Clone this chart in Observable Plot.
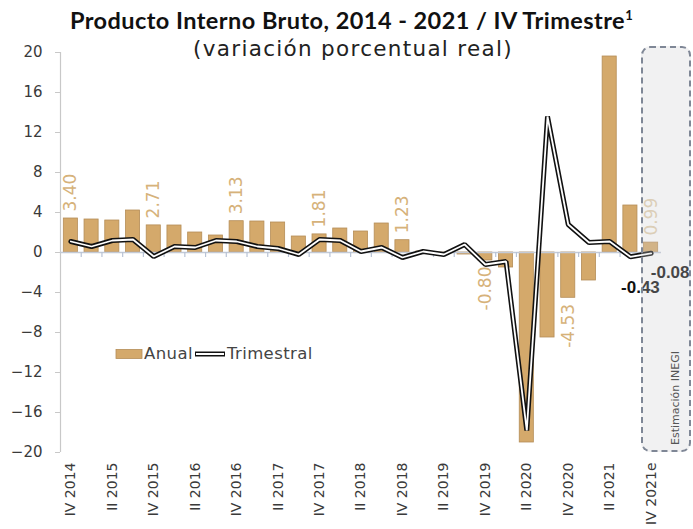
<!DOCTYPE html>
<html><head><meta charset="utf-8">
<script src="https://cdn.jsdelivr.net/npm/d3@7"></script>
<script src="https://cdn.jsdelivr.net/npm/@observablehq/plot@0.6"></script>
<style>
body{margin:0;background:#fff;}
#wrap{position:relative;width:693px;height:529px;overflow:hidden;font-family:"DejaVu Sans",sans-serif;}
#chart{position:absolute;left:0;top:0;}
#title{position:absolute;left:0;top:6px;width:703px;text-align:center;font-family:Lato,sans-serif;font-weight:bold;font-size:23.5px;letter-spacing:0.45px;color:#111;white-space:nowrap;}
#title sup{font-size:13px;}
#subtitle{position:absolute;left:0;top:36px;width:706px;text-align:center;font-size:21.5px;letter-spacing:1.3px;color:#222;white-space:nowrap;}
#legend{position:absolute;left:115px;top:344px;font-size:16.5px;letter-spacing:0.4px;color:#444;display:flex;align-items:center;white-space:nowrap;}
#box{position:absolute;left:641px;top:46px;width:46px;height:402px;border:2px dashed #7f8796;border-radius:9px;background:rgba(205,205,210,0.28);}
#boxtext{position:absolute;left:675px;top:398px;transform:translate(-50%,-50%) rotate(-90deg);font-size:11px;color:#555;white-space:nowrap;}
</style></head><body>
<div id="wrap">
  <div id="chart"></div>
  <div id="title">Producto Interno Bruto, 2014 - 2021 / IV Trimestre<sup>1</sup></div>
  <div id="subtitle">(variación porcentual real)</div>
  <div id="legend">
    <svg width="29" height="12"><rect x="1" y="1.5" width="26" height="9" fill="#d4a96b" stroke="#b58d57" stroke-width="0.8"/></svg>
    <span>Anual</span>
    <svg width="34" height="12"><line x1="2" y1="6" x2="32" y2="6" stroke="#111" stroke-width="5"/><line x1="3" y1="6" x2="31" y2="6" stroke="#fff" stroke-width="2"/></svg>
    <span>Trimestral</span>
  </div>
  <div id="box"></div>
  <div id="boxtext">Estimación INEGI</div>
</div>
<script>
const quarters = ["IV 2014","I 2015","II 2015","III 2015","IV 2015","I 2016","II 2016","III 2016","IV 2016","I 2017","II 2017","III 2017","IV 2017","I 2018","II 2018","III 2018","IV 2018","I 2019","II 2019","III 2019","IV 2019","I 2020","II 2020","III 2020","IV 2020","I 2021","II 2021","III 2021","IV 2021e"];
const anual = [3.40, 3.3, 3.2, 4.2, 2.71, 2.7, 2.0, 1.7, 3.13, 3.1, 3.0, 1.6, 1.81, 2.4, 2.1, 2.9, 1.23, 0.1, -0.1, -0.2, -0.80, -1.5, -19.0, -8.5, -4.53, -2.8, 19.6, 4.7, 0.99];
const trimestral = [1.1, 0.6, 1.2, 1.3, -0.4, 0.6, 0.5, 1.2, 1.1, 0.6, 0.4, -0.2, 1.3, 1.2, 0.1, 0.5, -0.5, 0.1, -0.2, 0.8, -1.2, -0.9, -17.8, 13.6, 2.8, 1.0, 1.1, -0.43, -0.08];
const labeledAnual = [0, 4, 8, 12, 16, 20, 24, 28];
const labeledTrim = [27, 28];
const yTicks = [20, 16, 12, 8, 4, 0, -4, -8, -12, -16, -20];

const data = quarters.map((q, i) => ({i, q, anual: anual[i], trim: trimestral[i]}));
const xTicks = data.filter(d => d.i % 2 === 0).map(d => d.i);
const sep = data.slice(0, -1).map(d => d.i + 0.5);
const half = 0.34;
const tan = "#d4a96b";

const chart = Plot.plot({
  width: 693,
  height: 529,
  marginTop: 52,
  marginBottom: 77,
  marginLeft: 60,
  marginRight: 32,
  style: {fontFamily: "DejaVu Sans, sans-serif", fontSize: "15px", background: "transparent"},
  x: {type: "linear", domain: [-0.5, quarters.length - 0.5]},
  y: {domain: [-20, 20]},
  marks: [
    Plot.ruleX([-0.5], {stroke: "#c8c8c8", strokeWidth: 1.2}),
    Plot.axisY({ticks: yTicks, tickSize: 5, tickPadding: 13, stroke: "#c8c8c8", fill: "#3a3a3a", fontSize: 15, label: null}),
    Plot.axisX({ticks: xTicks, tickFormat: i => quarters[i], tickRotate: -90, tickSize: 0, tickPadding: 10, fill: "#3a3a3a", fontSize: 14, label: null}),
    Plot.rectY(data, {x1: d => d.i - half, x2: d => d.i + half, y1: 0, y2: "anual", fill: tan, stroke: "#b58d57", strokeWidth: 0.8}),
    Plot.ruleY([0], {stroke: "#c3cad6", strokeWidth: 1.5}),
    Plot.ruleX(sep, {y1: 0, y2: -0.5, stroke: "#b8c3d6", strokeWidth: 1.2}),
    Plot.line(data, {x: "i", y: "trim", stroke: "#111", strokeWidth: 5, strokeLinejoin: "miter"}),
    Plot.line(data, {x: "i", y: "trim", stroke: "#fff", strokeWidth: 1.8, strokeLinejoin: "miter"}),
    Plot.text(data.filter(d => labeledAnual.includes(d.i) && d.anual >= 0), {x: "i", y: "anual", text: d => d.anual.toFixed(2), rotate: -90, textAnchor: "start", lineAnchor: "middle", dy: -7, fill: d => d.i === 28 ? "#e2cfae" : "#d6b27a", fontSize: 17}),
    Plot.text(data.filter(d => labeledAnual.includes(d.i) && d.anual < 0), {x: "i", y: "anual", text: d => d.anual.toFixed(2), rotate: -90, textAnchor: "end", lineAnchor: "middle", dy: 6, fill: "#d6b27a", fontSize: 17}),
    Plot.text(data.filter(d => d.i === labeledTrim[0]), {x: "i", y: "trim", text: d => d.trim.toFixed(2), dx: 10, dy: 31, fill: "#111", fontWeight: "bold", fontSize: 17, fontFamily: "Liberation Sans, Arial, sans-serif"}),
    Plot.text(data.filter(d => d.i === labeledTrim[1]), {x: "i", y: "trim", text: d => d.trim.toFixed(2), dx: 19, dy: 19, fill: "#111", fontWeight: "bold", fontSize: 17, fontFamily: "Liberation Sans, Arial, sans-serif"})
  ]
});
document.getElementById("chart").appendChild(chart);
</script>
</body></html>
